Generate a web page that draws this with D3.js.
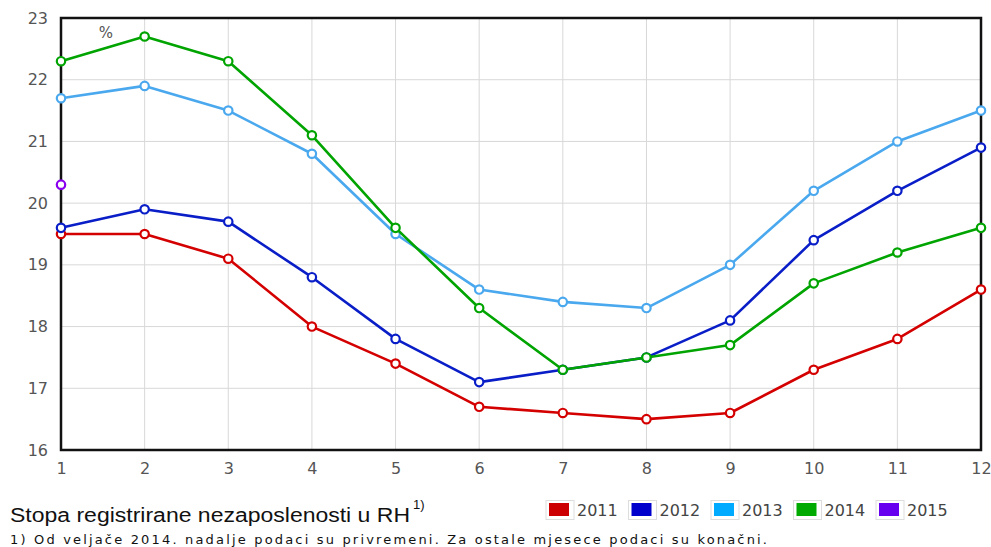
<!DOCTYPE html>
<html><head><meta charset="utf-8">
<script src="https://cdn.jsdelivr.net/npm/d3@7"></script>
<style>body{margin:0;background:#fff}svg{display:block}</style>
</head><body>
<script>
const months = [1,2,3,4,5,6,7,8,9,10,11,12];
const yTicks = [16,17,18,19,20,21,22,23];
const years = ["2011","2012","2013","2014","2015"];
const lineColors = ["#d40000","#0a1ec8","#4aa8ee","#00a400","#8a00ee"];
const swatchColors = ["#cc0000","#0000cc","#00aaff","#00aa00","#6600ee"];
const v2011 = [19.5,19.5,19.1,18.0,17.4,16.7,16.6,16.5,16.6,17.3,17.8,18.6];
const v2012 = [19.6,19.9,19.7,18.8,17.8,17.1,17.3,17.5,18.1,19.4,20.2,20.9];
const v2013 = [21.7,21.9,21.5,20.8,19.5,18.6,18.4,18.3,19.0,20.2,21.0,21.5];
const v2014 = [22.3,22.7,22.3,21.1,19.6,18.3,17.3,17.5,17.7,18.7,19.2,19.6];
const v2015 = [20.3];
const seriesValues = [v2011,v2012,v2013,v2014,v2015];
const title = "Stopa registrirane nezaposlenosti u RH";
const footnote = "1) Od veljače 2014. nadalje podaci su privremeni. Za ostale mjesece podaci su konačni.";

const W=991,H=547;
const svg=d3.select("body").append("svg").attr("width",W).attr("height",H);
const L=61,R=981,T=18,B=450;
const x=d3.scaleLinear().domain([1,12]).range([L,R]);
const y=d3.scaleLinear().domain([16,23]).range([B,T]);
const tickFont="Verdana, 'DejaVu Sans', sans-serif";

// grid
svg.append("g").selectAll("line.v").data(months).join("line")
  .attr("x1",d=>x(d)).attr("x2",d=>x(d)).attr("y1",T).attr("y2",B)
  .attr("stroke","#d8d8d8").attr("stroke-width",1);
svg.append("g").selectAll("line.h").data(yTicks).join("line")
  .attr("x1",L).attr("x2",R).attr("y1",d=>y(d)).attr("y2",d=>y(d))
  .attr("stroke","#d8d8d8").attr("stroke-width",1);

// axes
const xAxis=svg.append("g").attr("transform",`translate(0,${B})`)
  .call(d3.axisBottom(x).tickValues(months).tickSize(0).tickPadding(13).tickFormat(d3.format("d")));
const yAxis=svg.append("g").attr("transform",`translate(${L},0)`)
  .call(d3.axisLeft(y).tickValues(yTicks).tickSize(0).tickPadding(13).tickFormat(d3.format("d")));
[xAxis,yAxis].forEach(a=>{a.select(".domain").remove();
  a.selectAll("text").attr("fill","#555").attr("font-family",tickFont).attr("font-size",16);});

// frame
svg.append("rect").attr("x",L).attr("y",T).attr("width",R-L).attr("height",B-T)
  .attr("fill","none").attr("stroke","#111").attr("stroke-width",2.5);

svg.append("text").attr("x",106).attr("y",38).attr("text-anchor","middle")
  .attr("fill","#555").attr("font-family",tickFont).attr("font-size",15).text("%");

const line=d3.line().x((d,i)=>x(months[i])).y(d=>y(d));
seriesValues.forEach((vals,si)=>{
  const g=svg.append("g");
  g.append("path").datum(vals).attr("d",line).attr("fill","none")
    .attr("stroke",lineColors[si]).attr("stroke-width",2.6).attr("stroke-linejoin","round");
  g.selectAll("circle").data(vals).join("circle")
    .attr("cx",(d,i)=>x(months[i])).attr("cy",d=>y(d)).attr("r",4.2)
    .attr("fill","#fff").attr("stroke",lineColors[si]).attr("stroke-width",2.2);
});

// title
svg.append("text").attr("x",10).attr("y",522).attr("fill","#111")
  .attr("font-family","Arial, 'Liberation Sans', sans-serif").attr("font-size",20)
  .attr("textLength",400).attr("lengthAdjust","spacingAndGlyphs").text(title);
svg.append("text").attr("x",413).attr("y",509).attr("fill","#111")
  .attr("font-family","Arial, 'Liberation Sans', sans-serif").attr("font-size",13).text("1)");
svg.append("text").attr("x",10).attr("y",544).attr("fill","#111")
  .attr("font-family",tickFont).attr("font-size",13)
  .attr("textLength",757).attr("lengthAdjust","spacing").text(footnote);

// legend
const leg=svg.append("g");
years.forEach((yr,i)=>{
  const lx=546+i*82.5;
  leg.append("rect").attr("x",lx).attr("y",500.5).attr("width",28).attr("height",19)
    .attr("fill","#fff").attr("stroke","#ddd");
  leg.append("rect").attr("x",lx+3).attr("y",503).attr("width",20).attr("height",13)
    .attr("fill",swatchColors[i]);
  leg.append("text").attr("x",lx+31).attr("y",516).attr("fill","#444")
    .attr("font-family",tickFont).attr("font-size",16).text(yr);
});
</script>
</body></html>
